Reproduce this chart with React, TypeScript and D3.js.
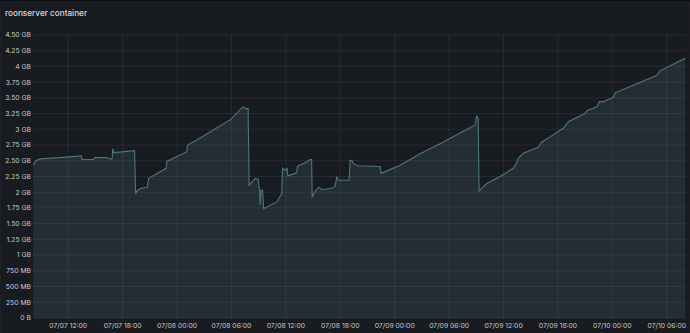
import React from "react";
import * as d3 from "d3";

// ---- data ----
const times: string[] = [
  "07/07 08:08", "07/07 08:28", "07/07 08:54", "07/07 11:07", "07/07 12:46", "07/07 13:26",
  "07/07 13:32", "07/07 14:45", "07/07 14:58", "07/07 16:11", "07/07 16:37", "07/07 16:51",
  "07/07 16:54", "07/07 17:01", "07/07 19:19", "07/07 19:26", "07/07 19:36", "07/07 19:56",
  "07/07 20:42", "07/07 20:52", "07/07 22:48", "07/07 22:52", "07/08 01:03", "07/08 01:10",
  "07/08 02:10", "07/08 05:51", "07/08 07:17", "07/08 07:30", "07/08 07:50", "07/08 07:57",
  "07/08 08:37", "07/08 08:56", "07/08 09:06", "07/08 09:10", "07/08 09:16", "07/08 09:26",
  "07/08 09:33", "07/08 11:02", "07/08 11:32", "07/08 11:38", "07/08 11:55", "07/08 12:08",
  "07/08 12:13", "07/08 13:11", "07/08 13:16", "07/08 14:17", "07/08 14:40", "07/08 14:50",
  "07/08 14:54", "07/08 15:13", "07/08 15:37", "07/08 16:00", "07/08 17:13", "07/08 17:26",
  "07/08 17:37", "07/08 17:49", "07/08 18:58", "07/08 19:05", "07/08 19:18", "07/08 19:28",
  "07/08 19:58", "07/08 22:23", "07/08 22:30", "07/09 00:36", "07/09 02:48", "07/09 05:00",
  "07/09 07:13", "07/09 08:52", "07/09 09:02", "07/09 09:12", "07/09 09:18", "07/09 10:09",
  "07/09 11:37", "07/09 13:05", "07/09 13:23", "07/09 13:38", "07/09 14:11", "07/09 15:51",
  "07/09 16:13", "07/09 17:08", "07/09 18:36", "07/09 19:09", "07/09 20:59", "07/09 21:15",
  "07/09 22:17", "07/09 22:34", "07/09 23:00", "07/10 00:07", "07/10 00:18", "07/10 02:19",
  "07/10 04:54", "07/10 05:16", "07/10 08:01",
];
const memoryGB: number[] = [
  2.43, 2.50, 2.53, 2.55, 2.57, 2.58,
  2.52, 2.52, 2.55, 2.55, 2.53, 2.53,
  2.69, 2.63, 2.66, 1.97, 2.02, 2.06,
  2.08, 2.22, 2.38, 2.49, 2.64, 2.75,
  2.83, 3.15, 3.36, 3.33, 3.33, 2.11,
  2.22, 2.21, 2.03, 1.80, 2.03, 2.03,
  1.74, 1.85, 1.98, 2.38, 2.35, 2.38,
  2.26, 2.31, 2.41, 2.48, 2.52, 2.52,
  1.93, 2.01, 2.08, 2.04, 2.07, 2.10,
  2.24, 2.19, 2.19, 2.51, 2.50, 2.45,
  2.42, 2.41, 2.30, 2.43, 2.61, 2.77,
  2.94, 3.07, 3.21, 3.17, 2.02, 2.14,
  2.25, 2.38, 2.45, 2.54, 2.62, 2.72,
  2.80, 2.88, 3.02, 3.12, 3.25, 3.30,
  3.36, 3.44, 3.44, 3.51, 3.58, 3.70,
  3.86, 3.93, 4.13,
];
const yTickValues: number[] = [0, 0.25, 0.5, 0.75, 1, 1.25, 1.5, 1.75, 2, 2.25, 2.5, 2.75, 3, 3.25, 3.5, 3.75, 4, 4.25, 4.5];
const yTickLabels: string[] = [
  "0 B", "250 MB", "500 MB", "750 MB", "1 GB", "1.25 GB", "1.50 GB", "1.75 GB", "2 GB",
  "2.25 GB", "2.50 GB", "2.75 GB", "3 GB", "3.25 GB", "3.50 GB", "3.75 GB", "4 GB", "4.25 GB", "4.50 GB",
];
const xTickLabels: string[] = [
  "07/07 12:00", "07/07 18:00", "07/08 00:00", "07/08 06:00", "07/08 12:00", "07/08 18:00",
  "07/09 00:00", "07/09 06:00", "07/09 12:00", "07/09 18:00", "07/10 00:00", "07/10 06:00",
];
const rangeStart = "07/07 08:07";
const rangeEnd = "07/10 08:07";
const title = "roonserver container";

const parse = (s: string) => d3.timeParse("%Y/%m/%d %H:%M")("2023/" + s) as Date;

export default function App() {
  const W = 690, H = 333;
  const left = 33, right = 686, top = 35, bottom = 318;
  const x = d3.scaleTime().domain([parse(rangeStart), parse(rangeEnd)]).range([left, right]);
  const y = d3.scaleLinear().domain([0, 4.5]).range([bottom, top]);
  const data = times.map((t, i) => ({ t: parse(t), v: memoryGB[i] }));
  const line = d3.line<{ t: Date; v: number }>().x(d => x(d.t)).y(d => y(d.v));
  const area = d3.area<{ t: Date; v: number }>().x(d => x(d.t)).y0(y(0)).y1(d => y(d.v));
  const font = "Inter, 'Noto Sans', sans-serif";
  const lineColor = "rgb(78,116,124)";
  const fillColor = "rgb(84,124,132)";
  const gridColor = "rgba(204,204,220,0.09)";

  return (
    <div style={{ position: "fixed", left: 0, top: 0, width: W, height: H }}>
      <svg width={W} height={H} style={{ display: "block" }}>
        <rect x={0} y={0} width={W} height={H} fill="#111217" />
        <rect x={0} y={2.5} width={W} height={H} fill="#181b1f" stroke="#24272c" strokeWidth={1} />
        <text x={5} y={16} fill="#d8d9e2" fontFamily={font} fontSize={8.2} fontWeight={500}>{title}</text>
        <g>
          {yTickValues.map(v => (
            <line key={"h" + v} x1={left} x2={right} y1={y(v)} y2={y(v)} stroke={gridColor} strokeWidth={1} />
          ))}
          {xTickLabels.map(s => (
            <line key={"v" + s} x1={x(parse(s))} x2={x(parse(s))} y1={top} y2={bottom} stroke={gridColor} strokeWidth={1} />
          ))}
        </g>
        <path d={area(data) || ""} fill={fillColor} fillOpacity={0.2} />
        <path d={line(data) || ""} fill="none" stroke={lineColor} strokeWidth={1.1} />
        <g>
          {yTickValues.map((v, i) => (
            <text key={"yl" + v} x={31} y={y(v)} dy="0.35em" textAnchor="end" fill="#c7c8d3" fontFamily={font} fontSize={6.8}>
              {yTickLabels[i]}
            </text>
          ))}
          {xTickLabels.map(s => (
            <text key={"xl" + s} x={x(parse(s))} y={328} textAnchor="middle" fill="#c7c8d3" fontFamily={font} fontSize={6.8}>
              {s}
            </text>
          ))}
        </g>
      </svg>
    </div>
  );
}
